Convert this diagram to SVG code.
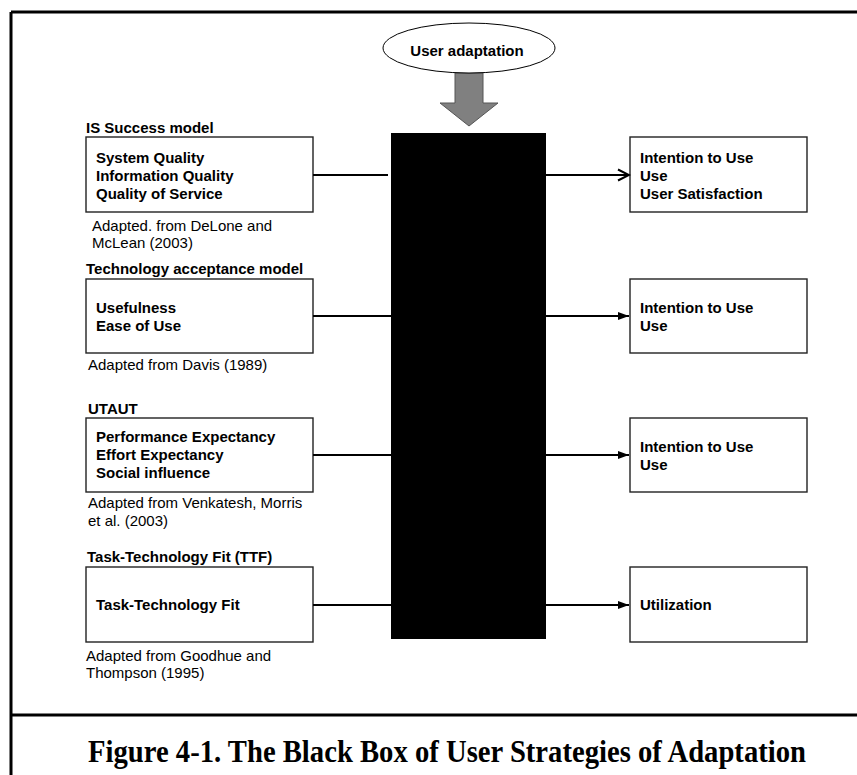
<svg xmlns="http://www.w3.org/2000/svg" width="857" height="775" viewBox="0 0 857 775">
<style>
.frame{stroke:#000;stroke-width:3;fill:none}
.box{fill:#fff;stroke:#222;stroke-width:1.4}
.lbl{font-family:"Liberation Sans",Arial,sans-serif;font-size:15px;font-weight:bold;fill:#000}
.src{font-family:"Liberation Sans",Arial,sans-serif;font-size:15px;fill:#000}
.cap{font-family:"Liberation Serif","Times New Roman",serif;font-size:30.5px;font-weight:bold;fill:#000}
.conn{stroke:#000;stroke-width:2.2;fill:none}
</style>
<defs>
<marker id="arrF" markerUnits="userSpaceOnUse" markerWidth="12" markerHeight="10" refX="11" refY="5" orient="auto">
<path d="M0,1 L11,5 L0,9 Z" fill="#000"/>
</marker>
<marker id="arrO" markerUnits="userSpaceOnUse" markerWidth="14" markerHeight="14" refX="12" refY="7" orient="auto">
<path d="M1,1.5 L12,7 L1,12.5" fill="none" stroke="#000" stroke-width="2"/>
</marker>
</defs>
<rect width="857" height="775" fill="#fff"/>
<g id="frame">
<path class="frame" d="M11,12 H857 M11,12 V775 M11,715 H857"/>
</g>
<g id="user-adaptation">
<polygon points="455,73 483,73 483,103 498,103 469,126 440,103 455,103" fill="#808080" stroke="#555" stroke-width="1"/>
<ellipse cx="469" cy="48" rx="86" ry="25" fill="#fff" stroke="#000" stroke-width="1"/>
<text class="lbl" x="467" y="56" text-anchor="middle">User adaptation</text>
</g>
<g id="black-box">
<rect x="391" y="133" width="155" height="506" fill="#000"/>
</g>
<g id="is-success">
<text class="lbl" x="86" y="133">IS Success model</text>
<rect class="box" x="86" y="137" width="227" height="75"/>
<text class="lbl" x="96" y="163">System Quality</text>
<text class="lbl" x="96" y="181">Information Quality</text>
<text class="lbl" x="96" y="199">Quality of Service</text>
<text class="src" x="92" y="231">Adapted. from DeLone and</text>
<text class="src" x="92" y="248">McLean (2003)</text>
</g>
<g id="tam">
<text class="lbl" x="86" y="274">Technology acceptance model</text>
<rect class="box" x="86" y="279" width="227" height="74"/>
<text class="lbl" x="96" y="313">Usefulness</text>
<text class="lbl" x="96" y="331">Ease of Use</text>
<text class="src" x="88" y="370">Adapted from Davis (1989)</text>
</g>
<g id="utaut">
<text class="lbl" x="88" y="414">UTAUT</text>
<rect class="box" x="86" y="418" width="227" height="74"/>
<text class="lbl" x="96" y="442">Performance Expectancy</text>
<text class="lbl" x="96" y="460">Effort Expectancy</text>
<text class="lbl" x="96" y="478">Social influence</text>
<text class="src" x="88" y="508">Adapted from Venkatesh, Morris</text>
<text class="src" x="88" y="526">et al. (2003)</text>
</g>
<g id="ttf">
<text class="lbl" x="87" y="562">Task-Technology Fit (TTF)</text>
<rect class="box" x="86" y="567" width="227" height="75"/>
<text class="lbl" x="96" y="610">Task-Technology Fit</text>
<text class="src" x="86" y="661">Adapted from Goodhue and</text>
<text class="src" x="86" y="678">Thompson (1995)</text>
</g>
<g id="out-1">
<rect class="box" x="630" y="137" width="177" height="75"/>
<text class="lbl" x="640" y="163">Intention to Use</text>
<text class="lbl" x="640" y="181">Use</text>
<text class="lbl" x="640" y="199">User Satisfaction</text>
</g>
<g id="out-2">
<rect class="box" x="630" y="279" width="177" height="74"/>
<text class="lbl" x="640" y="313">Intention to Use</text>
<text class="lbl" x="640" y="331">Use</text>
</g>
<g id="out-3">
<rect class="box" x="630" y="418" width="177" height="74"/>
<text class="lbl" x="640" y="452">Intention to Use</text>
<text class="lbl" x="640" y="470">Use</text>
</g>
<g id="out-4">
<rect class="box" x="630" y="567" width="177" height="75"/>
<text class="lbl" x="640" y="610">Utilization</text>
</g>
<g id="connectors">
<line class="conn" x1="313" y1="175" x2="388" y2="175"/>
<line class="conn" x1="313" y1="316" x2="391" y2="316"/>
<line class="conn" x1="313" y1="455" x2="391" y2="455"/>
<line class="conn" x1="313" y1="605" x2="391" y2="605"/>
<line class="conn" x1="546" y1="175" x2="629" y2="175" marker-end="url(#arrO)"/>
<line class="conn" x1="546" y1="316" x2="629" y2="316" marker-end="url(#arrF)"/>
<line class="conn" x1="546" y1="455" x2="629" y2="455" marker-end="url(#arrF)"/>
<line class="conn" x1="546" y1="605" x2="629" y2="605" marker-end="url(#arrF)"/>
</g>
<g id="caption">
<text class="cap" x="88" y="762" textLength="718" lengthAdjust="spacingAndGlyphs">Figure 4-1. The Black Box of User Strategies of Adaptation</text>
</g>
</svg>
